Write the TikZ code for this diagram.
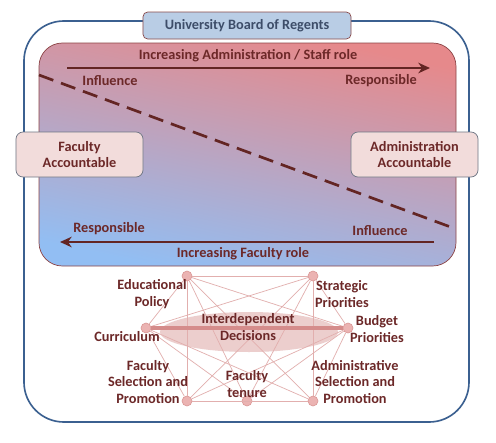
\documentclass[tikz,border=0pt]{standalone}
\usepackage{fontspec}
\setmainfont{Carlito}
\usetikzlibrary{arrows.meta,positioning,shapes.geometric,shadings}
\definecolor{Frame}{HTML}{3B6090}
\definecolor{BoardFill}{HTML}{B9CDE5}
\definecolor{BoardInk}{HTML}{3D4D69}
\definecolor{BoardEdge}{HTML}{8A4B4B}
\definecolor{Maroon}{HTML}{632523}
\definecolor{TextRed}{HTML}{6C2828}
\definecolor{PinkBox}{HTML}{F2DCDB}
\definecolor{BoxEdge}{HTML}{6E7684}
\definecolor{FieldEdge}{HTML}{8C4446}
\definecolor{FieldRed}{HTML}{E6898B}
\definecolor{FieldMid}{HTML}{C6A6BE}
\definecolor{FieldBlue}{HTML}{92BEF3}
\definecolor{DotFill}{HTML}{EBB3B2}
\definecolor{DotEdge}{HTML}{D99694}
\definecolor{LinkPink}{HTML}{E2AFAE}
\definecolor{OvalPink}{HTML}{E9C6C5}
\definecolor{BarPink}{HTML}{D58C8B}
\begin{document}
\begin{tikzpicture}[x=0.03cm,y=-0.03cm,>=Stealth,
 txt/.style={font=\bfseries\fontsize{12.2}{14.2}\selectfont,text=TextRed,align=center,inner sep=0pt},
 board/.style={draw=BoardEdge,line width=0.6pt,fill=BoardFill,rounded corners=4pt,minimum width=6.24cm,minimum height=0.81cm,font=\bfseries\fontsize{12.2}{14.2}\selectfont,text=BoardInk},
 accbox/.style={draw=BoxEdge,line width=0.6pt,fill=PinkBox,rounded corners=6pt,minimum width=3.81cm,minimum height=1.35cm,align=center,font=\bfseries\fontsize{12.2}{14.2}\selectfont,text=TextRed},
 role/.style={-{Stealth[length=10pt,width=9pt]},line width=2.3pt,draw=Maroon},
 cut/.style={line width=2.3pt,draw=Maroon,dash pattern=on 13pt off 7pt},
 dot/.style={circle,fill=DotFill,draw=DotEdge,line width=0.5pt,minimum size=0.3cm,inner sep=0pt},
 link/.style={draw=LinkPink,line width=0.6pt},
 bar/.style={draw=BarPink,line width=3.4pt}]
\useasboundingbox (0,0) rectangle (496,443);
\fill[white] (0,0) rectangle (496,443);
% frame and field
\draw[Frame,line width=1.4pt,rounded corners=34pt] (24,21) rectangle (469,422);
\shadedraw[draw=FieldEdge,line width=0.6pt,rounded corners=20pt,top color=FieldRed,middle color=FieldMid,bottom color=FieldBlue,shading angle=-12] (39,43) rectangle (456,266);
\node[board] (regents) at (247,25.5) {University Board of Regents};
% roles
\coordinate (adminStart) at (67,68);\coordinate (adminEnd) at (430,68);
\draw[role] (adminStart) -- (adminEnd);
\node[txt] (adminRole) at (248,56) {Increasing Administration / Staff role};
\node[txt] (adminInfl) at (110,81) {Influence};\node[txt] (adminResp) at (381,81) {Responsible};
\coordinate (facStart) at (434,242);\coordinate (facEnd) at (60,242);
\draw[role] (facStart) -- (facEnd);
\node[txt] (facRole) at (243,254) {Increasing Faculty role};
\node[txt] (facResp) at (109,229) {Responsible};\node[txt] (facInfl) at (380,231) {Influence};
\coordinate (cutL) at (39,75);\coordinate (cutR) at (456,229);
\draw[cut] (cutL) -- (cutR);
\node[accbox] (facAcc) at (79.5,154.5) {Faculty\\Accountable};
\node[accbox] (adminAcc) at (414.5,154.5) {Administration\\Accountable};
% decisions
\node[ellipse,fill=OvalPink,opacity=0.85,minimum width=5.34cm,minimum height=1.2cm] (dec) at (249,332) {};
\node[dot] (ep) at (187,276) {};\node[dot] (sp) at (313,276) {};
\node[dot] (cur) at (146,328) {};\node[dot] (bp) at (348,328) {};
\node[dot] (fsp) at (187,401) {};\node[dot] (ften) at (247,401) {};\node[dot] (asp) at (313,401) {};
\foreach \a [count=\i] in {ep,sp,cur,bp,fsp,ften,asp}
  \foreach \b [count=\j] in {ep,sp,cur,bp,fsp,ften,asp}
    {\ifnum\j>\i \draw[link] (\a) -- (\b);\fi}
\draw[bar] (cur) -- (bp);
\node[txt] (decLbl) at (248,327) {Interdependent\\Decisions};
\node[txt] (epLbl) at (152,294) {Educational\\Policy};
\node[txt] (spLbl) at (342,294) {Strategic\\Priorities};
\node[txt] (curLbl) at (127,337) {Curriculum};
\node[txt] (bpLbl) at (377,329) {Budget\\Priorities};
\node[txt] (fspLbl) at (148,382) {Faculty\\Selection and\\Promotion};
\node[txt] (ftenLbl) at (247,384) {Faculty\\tenure};
\node[txt] (aspLbl) at (355,382) {Administrative\\Selection and\\Promotion};
\end{tikzpicture}
\end{document}
